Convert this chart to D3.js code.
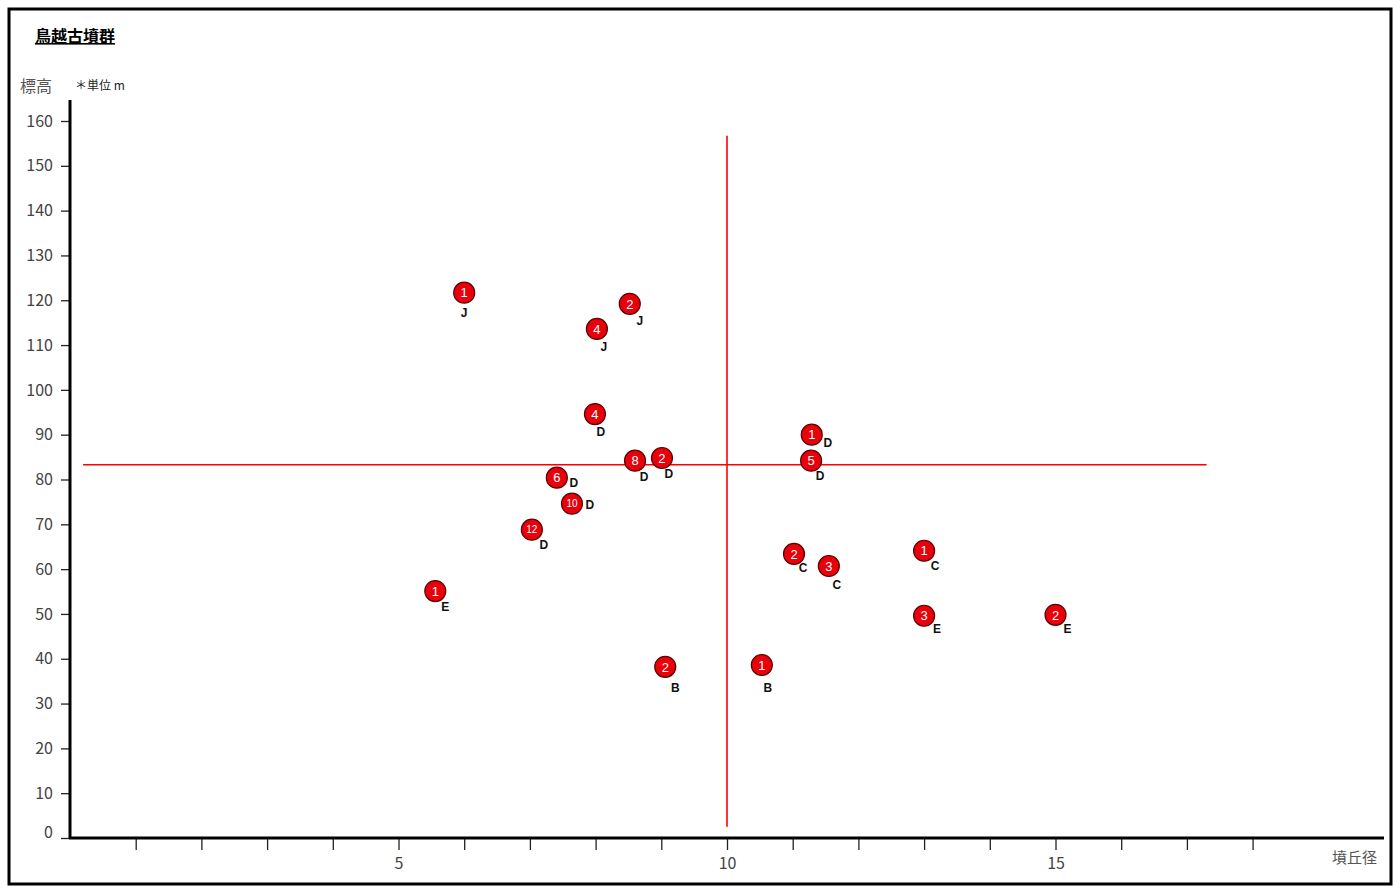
<!DOCTYPE html>
<html lang="ja">
<head>
<meta charset="utf-8" />
<title>鳥越古墳群</title>
<script src="https://cdn.jsdelivr.net/npm/d3@7/dist/d3.min.js"></script>
<style>
  body { margin: 0; background: #fff; }
  svg text { font-family: "Noto Sans CJK JP", "Noto Sans", sans-serif; }
</style>
</head>
<body>
<script>
/*************************** Data ***************************/

// 墳丘径 (x), 標高 (y), number in the circle, group letter
var diameters = [6.0, 8.52, 8.02, 7.99, 8.6, 9.01, 7.41, 7.64, 7.03, 5.56,
                 9.06, 10.53, 11.29, 11.28, 11.02, 11.55, 13.0, 13.0, 15.0];
var heights   = [121.7, 119.2, 113.6, 94.6, 84.2, 84.8, 80.4, 74.6, 68.8, 55.1,
                 38.2, 38.6, 90.0, 84.2, 63.4, 60.7, 64.1, 49.6, 49.8];
var numbers   = ["1", "2", "4", "4", "8", "2", "6", "10", "12", "1",
                 "2", "1", "1", "5", "2", "3", "1", "3", "2"];
var groups    = ["J", "J", "J", "D", "D", "D", "D", "D", "D", "E",
                 "B", "B", "D", "D", "C", "C", "C", "E", "E"];

// mean lines
var crossX = 10, crossY = 83.3;
var crossXRange = [0.2, 17.3];
var crossYRange = [2.5, 156.7];

var yTicks = d3.range(0, 161, 10);
var xTicks = d3.range(1, 19, 1);
var xLabels = [5, 10, 15];

/*************************** Canvas ***************************/

var W = 1400, H = 894;
var svg = d3.select("body").append("svg").attr("width", W).attr("height", H);

svg.append("rect")
  .attr("x", 9).attr("y", 9).attr("width", W - 18).attr("height", H - 19)
  .attr("fill", "#fff").attr("stroke", "#000").attr("stroke-width", 3);

var x = d3.scaleLinear().domain([0, 20]).range([70, 1384]);
var y = d3.scaleLinear().domain([0, 160]).range([838, 121]);

/*************************** Axes ***************************/

var yAxis = svg.append("g").attr("transform", "translate(70,0)")
  .call(d3.axisLeft(y).tickValues(yTicks).tickSize(9).tickPadding(8));
yAxis.select(".domain").remove();
yAxis.selectAll(".tick line").attr("stroke", "#222").attr("stroke-width", 1.3);
yAxis.selectAll(".tick text")
  .attr("fill", "#444").style("font-size", "16px")
  .attr("dy", function (d) { return d === 0 ? "-0.05em" : "0.32em"; });

var xAxis = svg.append("g").attr("transform", "translate(0,838)")
  .call(d3.axisBottom(x).tickValues(xTicks).tickSize(12).tickPadding(8)
    .tickFormat(function (d) { return xLabels.indexOf(d) >= 0 ? d : ""; }));
xAxis.select(".domain").remove();
xAxis.selectAll(".tick line").attr("stroke", "#222").attr("stroke-width", 1.3);
xAxis.selectAll(".tick text").attr("fill", "#444").style("font-size", "16px");

// axis lines
svg.append("line")
  .attr("x1", 70).attr("x2", 70).attr("y1", 100).attr("y2", 839)
  .attr("stroke", "#000").attr("stroke-width", 3);
svg.append("line")
  .attr("x1", 69).attr("x2", x(20)).attr("y1", 838).attr("y2", 838)
  .attr("stroke", "#000").attr("stroke-width", 3);

/*************************** Texts ***************************/

svg.append("text").attr("x", 35).attr("y", 42)
  .style("font-size", "16px").style("font-weight", "bold")
  .attr("text-decoration", "underline").text("鳥越古墳群");

svg.append("text").attr("x", 20).attr("y", 92)
  .attr("fill", "#555").style("font-size", "16px").text("標高");

svg.append("text").attr("x", 75).attr("y", 90)
  .attr("fill", "#222").style("font-size", "12px").text("＊単位 m");

svg.append("text").attr("x", 1377).attr("y", 863).attr("text-anchor", "end")
  .attr("fill", "#555").style("font-size", "15px").text("墳丘径");

/*************************** Cross lines ***************************/

svg.append("line")
  .attr("x1", x(crossX)).attr("x2", x(crossX))
  .attr("y1", y(crossYRange[1])).attr("y2", y(crossYRange[0]))
  .attr("stroke", "#f00").attr("stroke-width", 1.6);
svg.append("line")
  .attr("x1", x(crossXRange[0])).attr("x2", x(crossXRange[1]))
  .attr("y1", y(crossY)).attr("y2", y(crossY))
  .attr("stroke", "#f00").attr("stroke-width", 1.6);

/*************************** Points ***************************/

// where the group letter sits relative to its circle
var labelOffsets = [[0, 20], [10, 17], [7, 18], [6, 18], [9, 16], [7, 16], [17, 5], [18, 1],
                    [12, 15], [10, 16], [10, 21], [6, 23], [16, 8], [9, 15], [9, 14],
                    [8, 19], [11, 15], [13, 13], [12, 14]];

var pts = diameters.map(function (d, i) {
  return { dx: d, h: heights[i], n: numbers[i], g: groups[i], off: labelOffsets[i] };
});

var node = svg.append("g").selectAll("g").data(pts).enter().append("g")
  .attr("transform", function (d) { return "translate(" + x(d.dx) + "," + y(d.h) + ")"; });

node.append("circle").attr("r", 10.5)
  .attr("fill", "#e8000b").attr("stroke", "#5a0000").attr("stroke-width", 1.2);

node.append("text")
  .attr("text-anchor", "middle").attr("dy", "0.36em")
  .attr("fill", "#fff")
  .style("font-size", function (d) { return d.n.length > 1 ? "10px" : "13px"; })
  .style("font-family", "'Liberation Sans', sans-serif")
  .text(function (d) { return d.n; });

node.append("text")
  .attr("x", function (d) { return d.off[0]; })
  .attr("y", function (d) { return d.off[1]; })
  .attr("text-anchor", "middle").attr("dy", "0.36em")
  .attr("fill", "#111").style("font-size", "12px").style("font-weight", "bold")
  .style("font-family", "'Liberation Sans', sans-serif")
  .text(function (d) { return d.g; });
</script>
</body>
</html>
